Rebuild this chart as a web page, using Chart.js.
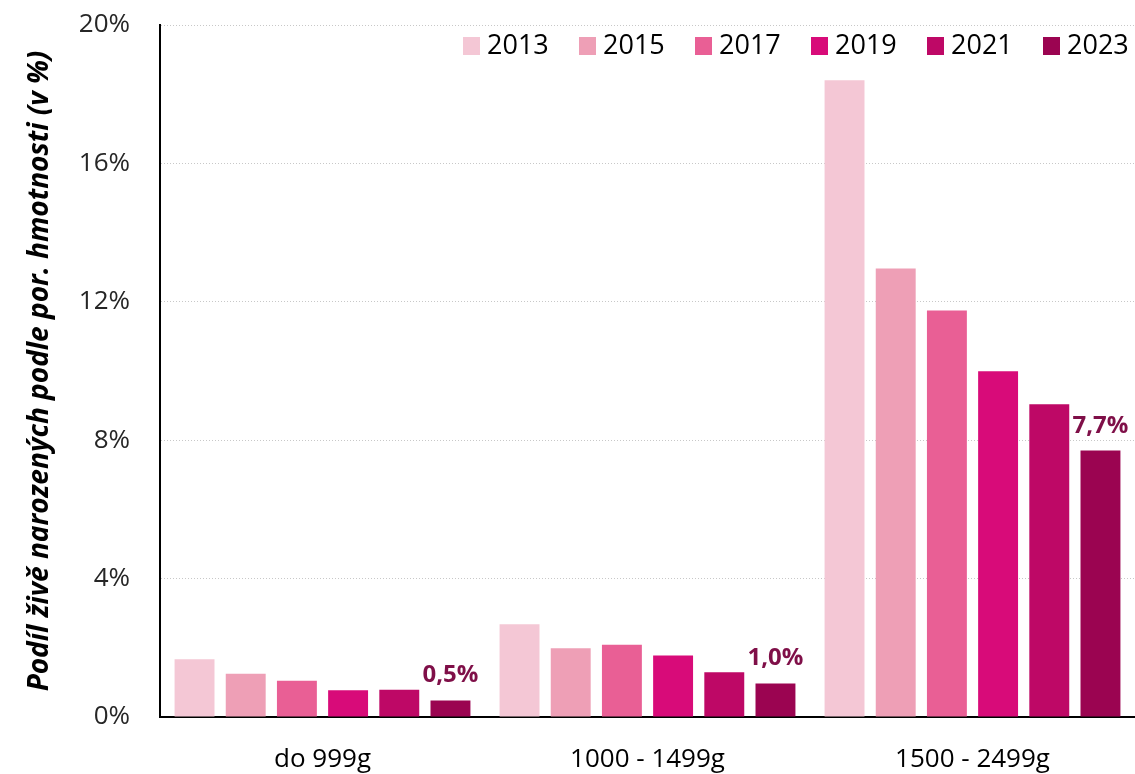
<!DOCTYPE html>
<html>
<head>
<meta charset="utf-8">
<script src="https://cdn.jsdelivr.net/npm/chart.js@4.4.1/dist/chart.umd.min.js"></script>
<style>
  html, body { margin: 0; padding: 0; background: #fff; }
  #wrap { width: 1135px; height: 774px; position: relative; }
</style>
</head>
<body>
<div id="wrap"><canvas id="chart"></canvas></div>
<script>
// weight categories
const categories = ['do 999g', '1000 - 1499g', '1500 - 2499g'];
const years = ['2013', '2015', '2017', '2019', '2021', '2023'];

// share of live births by birth weight (%)
const v2013 = [1.67, 2.68, 18.40];
const v2015 = [1.25, 1.99, 12.96];
const v2017 = [1.05, 2.09, 11.75];
const v2019 = [0.77, 1.78, 9.99];
const v2021 = [0.79, 1.29, 9.04];
const v2023 = [0.48, 0.97, 7.70];

const yTicks = [0, 4, 8, 12, 16, 20];
const colors = ['#F4C7D5', '#EE9FB6', '#E95F95', '#D80B79', '#BE0866', '#9B0451'];
const series = [v2013, v2015, v2017, v2019, v2021, v2023];

// legend drawn top-right inside the plot
const topLegend = {
  id: 'topLegend',
  afterDraw(chart) {
    const ctx = chart.ctx;
    const step = 116;
    let x = chart.chartArea.right - step * years.length + 24;
    ctx.save();
    ctx.font = '27px "Open Sans"';
    ctx.textBaseline = 'middle';
    ctx.textAlign = 'left';
    years.forEach((y, i) => {
      ctx.fillStyle = colors[i];
      ctx.fillRect(x, 37, 17, 18);
      ctx.fillStyle = '#000';
      ctx.fillText(y, x + 24, 46);
      x += step;
    });
    ctx.restore();
  }
};

// value labels over the 2023 bars
const lastLabels = {
  id: 'lastLabels',
  afterDatasetsDraw(chart) {
    const ctx = chart.ctx;
    const meta = chart.getDatasetMeta(years.length - 1);
    ctx.save();
    ctx.font = 'bold 24px "Open Sans"';
    ctx.fillStyle = '#7F0F48';
    ctx.textAlign = 'center';
    ctx.textBaseline = 'alphabetic';
    meta.data.forEach((bar, i) => {
      const txt = v2023[i].toFixed(1).replace('.', ',') + '%';
      ctx.fillText(txt, bar.x, bar.y - 18);
    });
    ctx.restore();
  }
};

new Chart(document.getElementById('chart'), {
  type: 'bar',
  data: {
    labels: categories,
    datasets: years.map((y, i) => ({
      label: y,
      data: series[i],
      backgroundColor: colors[i],
      borderWidth: 0,
      categoryPercentage: 0.945,
      barPercentage: 0.78
    }))
  },
  options: {
    responsive: true,
    maintainAspectRatio: false,
    animation: false,
    layout: { padding: { top: 25, right: 0, left: 0, bottom: 0 } },
    plugins: {
      legend: { display: false },
      tooltip: { enabled: false }
    },
    scales: {
      y: {
        min: 0,
        max: 20,
        afterFit(s) { s.width = 160; s.paddingTop = 0; s.paddingBottom = 0; },
        afterBuildTicks(s) { s.ticks = yTicks.map(v => ({ value: v })); },
        ticks: {
          padding: 30,
          color: '#262626',
          font: { family: 'Open Sans', size: 26 },
          callback: v => v + '%'
        },
        grid: { color: '#C8C8C8', drawTicks: false, lineWidth: 1 },
        border: { display: true, color: '#000', width: 2, dash: [1, 2] },
        title: {
          display: true,
          text: 'Podíl živě narozených podle por. hmotnosti (v %)',
          color: '#000',
          font: { family: 'Open Sans', size: 28, weight: 'bold', style: 'italic' },
          padding: { top: 23, bottom: 0 }
        }
      },
      x: {
        afterFit(s) { s.height = 57; },
        ticks: {
          padding: 27,
          color: '#000',
          font: { family: 'Open Sans', size: 26 }
        },
        grid: { display: false, drawTicks: false },
        border: { display: true, color: '#000', width: 2 }
      }
    }
  },
  plugins: [topLegend, lastLabels]
});
</script>
</body>
</html>
